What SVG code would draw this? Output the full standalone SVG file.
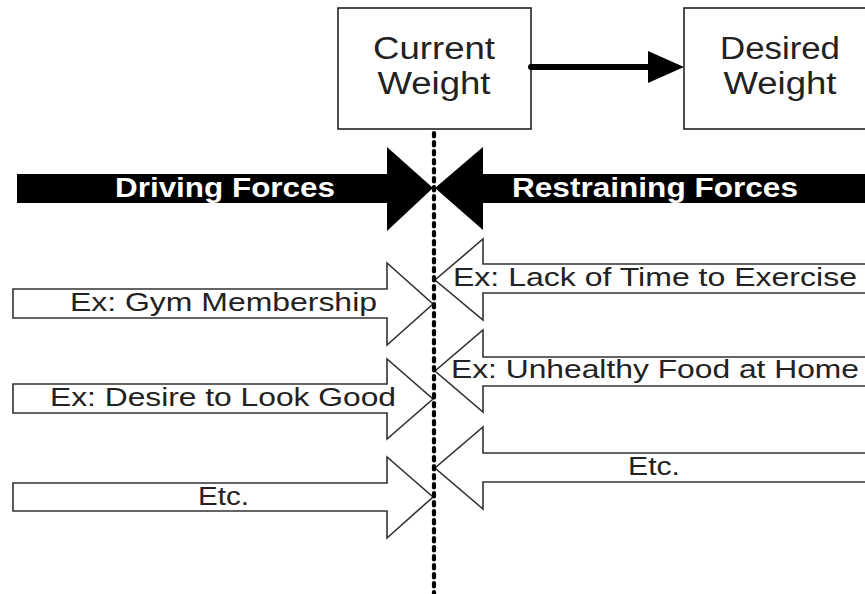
<svg xmlns="http://www.w3.org/2000/svg" width="865" height="594" viewBox="0 0 865 594">
  <style>
    .box { fill: #fff; stroke: #222; stroke-width: 1.6; }
    .btxt { font-family: "Liberation Sans", Arial, sans-serif; font-size: 31px; fill: #222; text-anchor: middle; }
    .band { fill: #000; stroke: none; }
    .btitle { font-family: "Liberation Sans", Arial, sans-serif; font-size: 27px; font-weight: bold; fill: #fff; }
    .open { fill: #fff; stroke: #333; stroke-width: 1.6; stroke-linejoin: miter; }
    .lbl { font-family: "Liberation Sans", Arial, sans-serif; font-size: 25px; fill: #222; }
    .dots { stroke: #000; stroke-width: 4.2; stroke-dasharray: 3.5 5.5; stroke-linecap: round; fill: none; }
  </style>
  <rect width="865" height="594" fill="#fff"/>

  <g id="current-weight">
    <rect class="box" x="338" y="8" width="193" height="121"/>
    <text class="btxt" x="434" y="59" textLength="122" lengthAdjust="spacingAndGlyphs">Current</text>
    <text class="btxt" x="434" y="94" textLength="113" lengthAdjust="spacingAndGlyphs">Weight</text>
  </g>

  <g id="desired-weight">
    <rect class="box" x="684" y="8" width="193" height="121"/>
    <text class="btxt" x="780" y="59" textLength="120" lengthAdjust="spacingAndGlyphs">Desired</text>
    <text class="btxt" x="780" y="94" textLength="113" lengthAdjust="spacingAndGlyphs">Weight</text>
  </g>

  <g id="driving-forces">
    <polygon class="band" points="17,174 387,174 387,147 433,188 387,231 387,203 17,203"/>
    <text class="btitle" x="115" y="197" textLength="220" lengthAdjust="spacingAndGlyphs">Driving Forces</text>
  </g>

  <g id="restraining-forces">
    <polygon class="band" points="866,174 483,174 483,147 435,188 483,230 483,203 866,203"/>
    <text class="btitle" x="512" y="197" textLength="286" lengthAdjust="spacingAndGlyphs">Restraining Forces</text>
  </g>

  <g id="drive-gym">
    <polygon class="open" points="13,289 387,289 387,263 433,304 387,345 387,318 13,318"/>
    <text class="lbl" x="70" y="311" textLength="307" lengthAdjust="spacingAndGlyphs">Ex: Gym Membership</text>
  </g>

  <g id="drive-desire">
    <polygon class="open" points="13,384 387,384 387,359 433,399 387,439 387,413 13,413"/>
    <text class="lbl" x="50" y="406" textLength="346" lengthAdjust="spacingAndGlyphs">Ex: Desire to Look Good</text>
  </g>

  <g id="drive-etc">
    <polygon class="open" points="13,483 387,483 387,457 433,497 387,538 387,511 13,511"/>
    <text class="lbl" x="198" y="505" textLength="51" lengthAdjust="spacingAndGlyphs">Etc.</text>
  </g>

  <g id="restrain-time">
    <polygon class="open" points="870,264 483,264 483,239 435,280 483,320 483,293 870,293"/>
    <text class="lbl" x="453" y="286" textLength="404" lengthAdjust="spacingAndGlyphs">Ex: Lack of Time to Exercise</text>
  </g>

  <g id="restrain-food">
    <polygon class="open" points="870,357 483,357 483,330 435,371 483,412 483,386 870,386"/>
    <text class="lbl" x="451" y="378" textLength="408" lengthAdjust="spacingAndGlyphs">Ex: Unhealthy Food at Home</text>
  </g>

  <g id="restrain-etc">
    <polygon class="open" points="870,453 483,453 483,427 435,468 483,509 483,482 870,482"/>
    <text class="lbl" x="628" y="475" textLength="52" lengthAdjust="spacingAndGlyphs">Etc.</text>
  </g>

  <g id="connectors">
    <line x1="531" y1="67" x2="652" y2="67" stroke="#000" stroke-width="6" stroke-linecap="round"/>
    <polygon points="648,51 684,67 648,83" fill="#000"/>
    <line class="dots" x1="434" y1="133" x2="434" y2="594"/>
  </g>
</svg>
